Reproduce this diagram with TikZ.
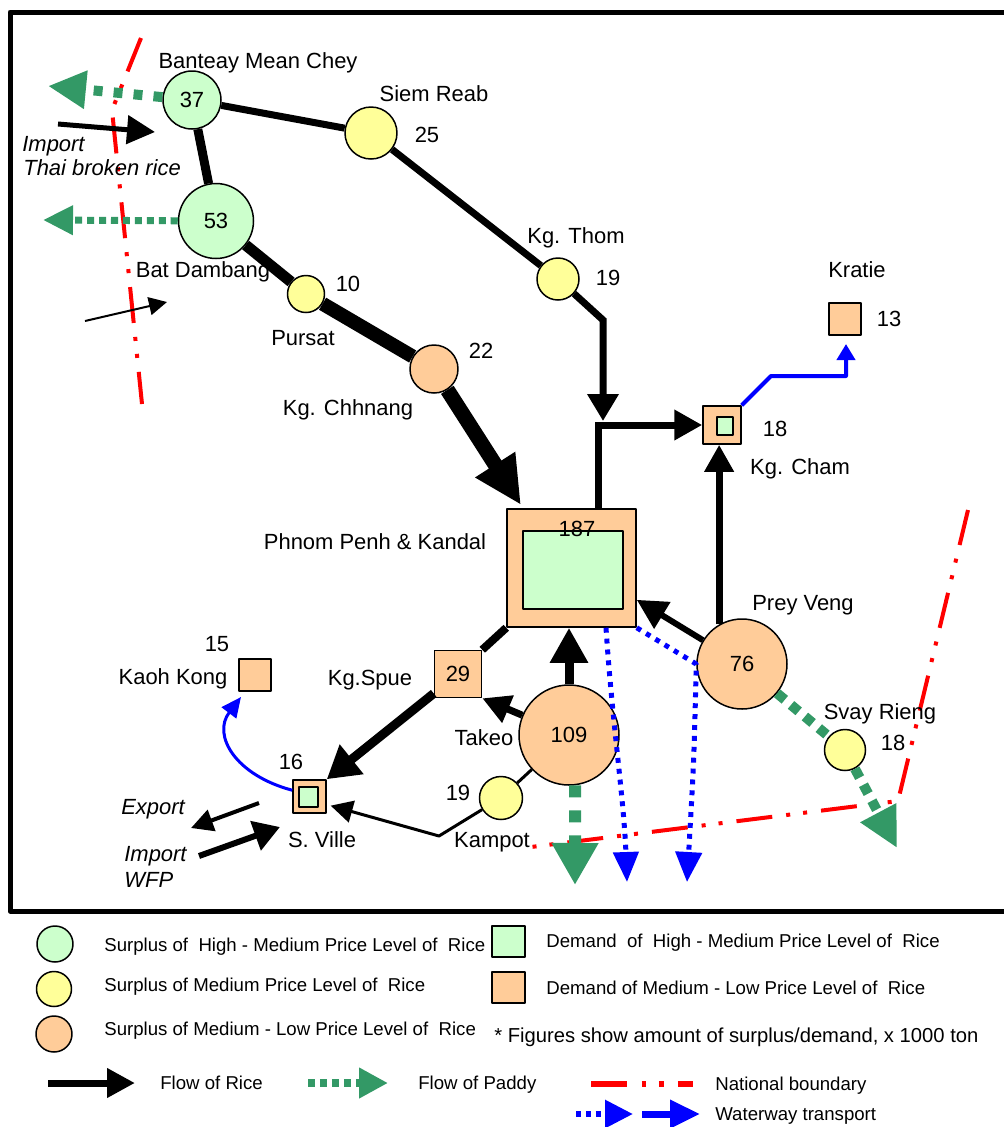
\documentclass[tikz,border=0pt]{standalone}
\usepackage{fontspec}
\setmainfont{Liberation Sans}
\usetikzlibrary{arrows.meta}

\definecolor{hmgreen}{HTML}{CCFFCC}
\definecolor{mdyellow}{HTML}{FFFF99}
\definecolor{mlorange}{HTML}{FFCC99}
\definecolor{paddygreen}{HTML}{339966}
\definecolor{waterblue}{HTML}{0000FF}
\definecolor{borderred}{HTML}{FF0000}

% one pixel of the sketch is 0.02cm
\newcommand\pix[1]{#1*0.02cm}
\newcommand\mapf{\fontsize{12.5}{15}\selectfont}
\newcommand\legf{\fontsize{10.6}{13}\selectfont}
\newcommand\notef{\fontsize{11.5}{14}\selectfont}

\tikzset{
  sur/.style={circle, draw, line width=\pix{1.5}, inner sep=0pt, minimum size=\pix{#1}, font=\mapf},
  hm/.style={sur=#1, fill=hmgreen},
  md/.style={sur=#1, fill=mdyellow},
  ml/.style={sur=#1, fill=mlorange},
  dem/.style={rectangle, draw, line width=\pix{1.5}, inner sep=0pt, minimum size=\pix{#1}, fill=mlorange, font=\mapf},
  demhi/.style 2 args={rectangle, draw, line width=\pix{1.5}, inner sep=0pt, minimum width=\pix{#1}, minimum height=\pix{#2}, fill=hmgreen},
  lbl/.style={inner sep=0pt, font=\mapf, text height=9pt, text depth=0pt},
  leg/.style={inner sep=0pt, font=\legf, text height=7.6pt, text depth=0pt, anchor=west},
  tip/.code 2 args={%
    \pgfmathsetlengthmacro\tiplen{#1*0.02cm}%
    \pgfmathsetlengthmacro\tipwid{#2*0.02cm}%
    \edef\tipset{\noexpand\tikzset{-{Triangle[length=\tiplen,width=\tipwid]}}}%
    \tipset},
  rice/.style={draw=black, line width=\pix{#1}},
  paddy/.style={draw=paddygreen, line width=\pix{#1}},
  water/.style={draw=waterblue, line width=\pix{#1}},
  border/.style={draw=borderred, line width=\pix{4},
    dash pattern=on 20.5pt off 8pt on 2.3pt off 7.4pt on 2.3pt off 8pt},
}

\begin{document}
\begin{tikzpicture}[x=0.02cm, y=-0.02cm, line join=round]
\useasboundingbox (0,0) rectangle (1004,1127);

% frame of the map
\draw[line width=\pix{5}] (1004,12) -- (10,12) -- (10,911) -- (1004,911);

% national boundaries
\draw[border] (141,38) -- (112,110) -- (142,404);
\draw[border] (968,510) -- (898,801) -- (523,848);

\path
(603,320) coordinate (ktbend)
(603,421) coordinate (ktjoin)
(598,425) coordinate (ppup)
(521,505) coordinate (pptip)
(439,836) coordinate (kpbend)
(58,124) coordinate (thaiA)
(155,132) coordinate (thaiB)
(85,321) coordinate (bdinA)
(167,302) coordinate (bdinB)
(259,803) coordinate (expA)
(191,828) coordinate (expB)
(199,856) coordinate (wfpA)
(280,827) coordinate (wfpB)
(48,86) coordinate (bmctip)
(43,220) coordinate (bdtip)
(575,885) coordinate (tktip)
(897,848) coordinate (svtip)
(627,882) coordinate (wt1)
(687,882) coordinate (wt2)
(771,376) coordinate (kcbend)
(846,376) coordinate (kcright)
(846,344) coordinate (krtip)
(241,697) coordinate (kktip)
;

% provinces
\node[hm=58] (bmc) at (192,100) {37};
\node[hm=75] (bd) at (216,221) {53};
\node[md=52] (siem) at (371,133) {};
\node[md=37] (pursat) at (306,294) {};
\node[ml=48] (kchh) at (434,369) {};
\node[md=42] (kthom) at (558,279) {};
\node[dem=32] (kratie) at (845,319) {};
\node[dem=38] (kcham) at (722,425) {};
\node[demhi={16}{18}] (kchamin) at (725,426) {};
\node[dem=118, minimum width=\pix{129}] (pp) at (571.5,568) {};
\node[demhi={100}{78}] (ppin) at (573,570) {};
\node[lbl] (ppval) at (577,529) {187};
\node[dem=47] (kspue) at (458,674) {29};
\node[ml=100] (takeo) at (569,735) {109};
\node[md=43] (kampot) at (501,798) {};
\node[ml=90] (pv) at (742,664) {76};
\node[md=41] (svay) at (845,750) {};
\node[dem=32] (kaoh) at (255,675) {};
\node[dem=33] (sville) at (309.5,796.5) {};
\node[demhi={19}{20}] (svillein) at (308.5,797) {};

% names and figures
\node[lbl] (bmcname) at (258,61) {Banteay Mean Chey};
\node[lbl] (siemname) at (434,94) {Siem Reab};
\node[lbl] (siemval) at (427,135) {25};
\node[lbl] (bdname) at (203,270) {Bat Dambang};
\node[lbl] (pursatval) at (348,284) {10};
\node[lbl] (pursatname) at (303,338) {Pursat};
\node[lbl] (kchhval) at (481,351) {22};
\node[lbl] (kchhname) at (348,408) {Kg. Chhnang};
\node[lbl] (kthomname) at (576,236) {Kg. Thom};
\node[lbl] (kthomval) at (608,278) {19};
\node[lbl] (kratiename) at (857,270) {Kratie};
\node[lbl] (kratieval) at (889,319) {13};
\node[lbl] (kchamval) at (775,429) {18};
\node[lbl] (kchamname) at (800,467) {Kg. Cham};
\node[lbl] (ppname) at (375,542) {Phnom Penh \& Kandal};
\node[lbl] (pvname) at (803,603) {Prey Veng};
\node[lbl] (svayname) at (880,712) {Svay Rieng};
\node[lbl] (svayval) at (893,743) {18};
\node[lbl] (kspuename) at (370,678) {Kg.Spue};
\node[lbl] (takeoname) at (484,738) {Takeo};
\node[lbl] (kampotval) at (458,793) {19};
\node[lbl] (kampotname) at (492,840) {Kampot};
\node[lbl] (kaohval) at (217,644) {15};
\node[lbl] (kaohname) at (173,677) {Kaoh Kong};
\node[lbl] (svilleval) at (291,762) {16};
\node[lbl] (svillename) at (322,840) {S. Ville};
\node[lbl, font=\mapf\itshape] (expname) at (153,807) {Export};
\node[lbl, font=\mapf\itshape, anchor=west] (wfpname1) at (124,854) {Import};
\node[lbl, font=\mapf\itshape, anchor=west] (wfpname2) at (124,880) {WFP};
\node[lbl, font=\mapf\itshape, anchor=west] (thainame1) at (22,144) {Import};
\node[lbl, font=\mapf\itshape, anchor=west] (thainame2) at (23,168) {Thai broken rice};

% flow of rice
\draw[rice=7] (bmc) -- (siem);
\draw[rice=9] (bmc) -- (bd);
\draw[rice=7] (siem) -- (kthom);
\draw[rice=7, tip={27}{30}, line join=miter] (kthom) -- (ktbend) -- (ktjoin);
\draw[rice=7, tip={28}{29}, line join=miter] (pp.north -| ppup) -- (ppup) -- (kcham.west);
\draw[rice=11] (bd) -- (pursat);
\draw[rice=14] (pursat) -- (kchh);
\draw[rice=15, tip={48}{44}] (kchh) -- (pptip);
\draw[rice=8] (pp.south west) -- (kspue.north east);
\draw[rice=9, tip={32}{36}] (kspue) -- (sville.north east);
\draw[rice=7, tip={28}{28}] (takeo) -- (kspue.south east);
\draw[rice=9, tip={35}{36}] (takeo) -- (takeo |- pp.south);
\draw[rice=6, tip={30}{30}] (pv) -- (pp.-26);
\draw[rice=7, tip={27}{28}] (pv.120) -- (pv.120 |- kcham.south);
\draw[rice=3] (takeo) -- (kampot);
\draw[rice=3, tip={22}{22}, shorten >=2.3pt] (kampot) -- (kpbend) -- (sville.-25);
\draw[rice=5, tip={28}{28}] (thaiA) -- (thaiB);
\draw[rice=2, tip={18}{18}] (bdinA) -- (bdinB);
\draw[rice=4, tip={22}{22}] (expA) -- (expB);
\draw[rice=6, tip={26}{30}] (wfpA) -- (wfpB);

% flow of paddy
\draw[paddy=10, dash pattern=on 5.1pt off 6.3pt, tip={38}{36}] (bmc) -- (bmctip);
\draw[paddy=7, dash pattern=on 4pt off 2.8pt, tip={30}{28}] (bd) -- (bdtip);
\draw[paddy=12, dash pattern=on 6.8pt off 7.4pt, tip={42}{44}] (takeo.-83) -- (tktip);
\draw[paddy=10, dash pattern=on 5.7pt off 4.6pt] (pv) -- (svay);
\draw[paddy=10, dash pattern=on 5.7pt off 4.6pt, tip={40}{38}] (svay) -- (svtip);

% waterway
\draw[water=5, dash pattern=on 2.8pt off 3.4pt, tip={30}{25}] (pp.-60) .. controls (612,720) and (624,800) .. (wt1);
\draw[water=5, dash pattern=on 2.8pt off 3.4pt, tip={30}{26}] (pp.south east) -- (pv.west) .. controls (694,760) .. (wt2);
\draw[water=4, tip={16}{18}] (kcham.north east) -- (kcbend) -- (kcright) -- (krtip);
\draw[water=3, tip={20}{18}] (sville.160) .. controls (235,775) and (212,735) .. (kktip);

% legend
\node[hm=36] (lgcirc1) at (55,944) {};
\node[md=35] (lgcirc2) at (54,989) {};
\node[ml=36] (lgcirc3) at (54,1034) {};
\node[leg] (lgtext1) at (104,945) {Surplus of~ High - Medium Price Level of~ Rice};
\node[leg] (lgtext2) at (104,985) {Surplus of Medium Price Level of~ Rice};
\node[leg] (lgtext3) at (104,1029) {Surplus of Medium - Low Price Level of~ Rice};
\node[demhi={33}{31}] (lgbox1) at (508.5,941.5) {};
\node[dem=31, minimum width=\pix{33}] (lgbox2) at (508.5,987.5) {};
\node[leg] (lgtext4) at (546,941) {Demand~ of~ High - Medium Price Level of~ Rice};
\node[leg] (lgtext5) at (546,988) {Demand of Medium - Low Price Level of~ Rice};
\node[leg, font=\notef, text height=8.2pt] (lgnote) at (494,1035) {* Figures show amount of surplus/demand, x 1000 ton};

\path
(48,1083) coordinate (lgriceA)
(135,1083) coordinate (lgriceB)
(308,1083) coordinate (lgpadA)
(388,1083) coordinate (lgpadB)
(591,1084) coordinate (lgbordA)
(693,1084) coordinate (lgbordB)
(576,1114) coordinate (lgwatA)
(633,1114) coordinate (lgwatB)
(642,1114) coordinate (lgwatC)
(700,1114) coordinate (lgwatD)
;
\draw[rice=7, tip={28}{28}] (lgriceA) -- (lgriceB);
\draw[paddy=8, dash pattern=on 4pt off 2.8pt, tip={29}{29}] (lgpadA) -- (lgpadB);
\draw[border, line width=\pix{6}, dash pattern=on 20.5pt off 8.5pt on 2.3pt off 7.4pt on 2.8pt off 8pt] (lgbordA) -- (lgbordB);
\draw[water=6, dash pattern=on 2.8pt off 2.8pt, tip={28}{27}] (lgwatA) -- (lgwatB);
\draw[water=7, tip={30}{27}] (lgwatC) -- (lgwatD);
\node[leg] (lgrice) at (160,1083) {Flow of Rice};
\node[leg] (lgpad) at (418,1083) {Flow of Paddy};
\node[leg] (lgbord) at (715,1084) {National boundary};
\node[leg] (lgwat) at (715,1114) {Waterway transport};
\end{tikzpicture}
\end{document}
